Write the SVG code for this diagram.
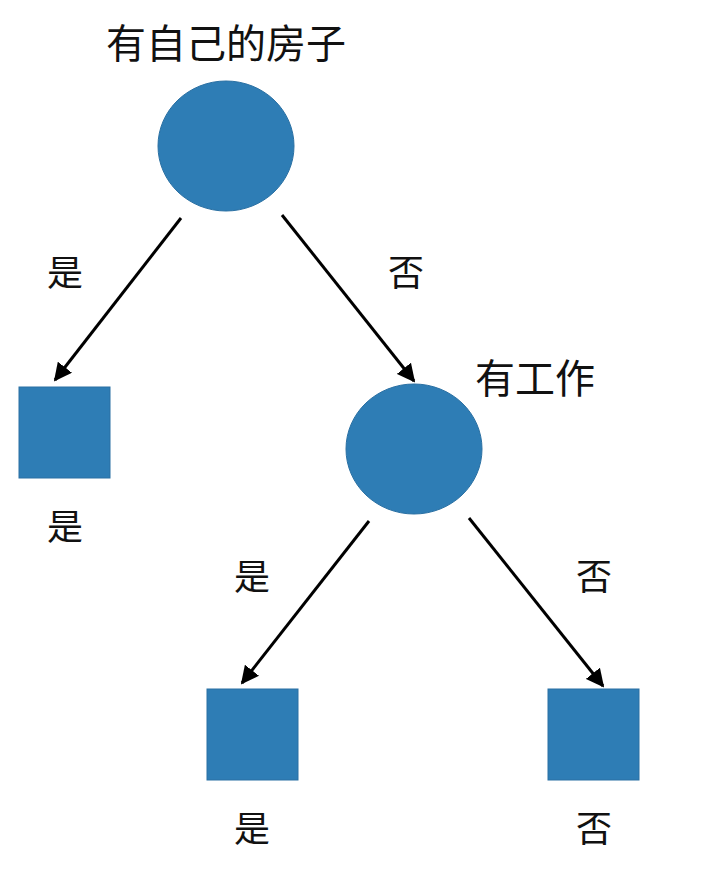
<svg xmlns="http://www.w3.org/2000/svg" width="702" height="870" viewBox="0 0 702 870">
<style>
.n{fill:#2e7db5;stroke:#2a70a3;stroke-width:1}
.t{font-family:"Noto Sans CJK SC",sans-serif;fill:#111;text-anchor:middle}
.c{stroke:#000;stroke-width:3;fill:none;marker-end:url(#a)}
</style>
<defs><marker id="a" viewBox="0 0 10 10" refX="9" refY="5" markerWidth="6" markerHeight="6" orient="auto" markerUnits="strokeWidth"><path d="M0,0L10,5L0,10z" fill="#000"/></marker></defs>
<rect width="702" height="870" fill="#fff"/>
<g id="connectors">
<line class="c" x1="181" y1="218" x2="55" y2="380"/>
<line class="c" x1="282" y1="215" x2="414" y2="381"/>
<line class="c" x1="369" y1="521" x2="242" y2="683"/>
<line class="c" x1="469" y1="518" x2="603" y2="686"/>
<text class="t" x="65" y="286" font-size="36">是</text>
<text class="t" x="406" y="286" font-size="36">否</text>
<text class="t" x="252" y="590" font-size="36">是</text>
<text class="t" x="594" y="590" font-size="36">否</text>
</g>
<g id="root"><ellipse class="n" cx="226" cy="146" rx="68" ry="65"/><text class="t" x="226" y="58" font-size="40">有自己的房子</text></g>
<g id="job"><ellipse class="n" cx="414" cy="449" rx="68" ry="65"/><text class="t" x="535" y="393" font-size="40">有工作</text></g>
<g id="leaf1"><rect class="n" x="19" y="387" width="91" height="91"/><text class="t" x="65" y="540" font-size="36">是</text></g>
<g id="leaf2"><rect class="n" x="207" y="689" width="91" height="91"/><text class="t" x="252" y="842" font-size="36">是</text></g>
<g id="leaf3"><rect class="n" x="548" y="689" width="91" height="91"/><text class="t" x="594" y="842" font-size="36">否</text></g>
</svg>
